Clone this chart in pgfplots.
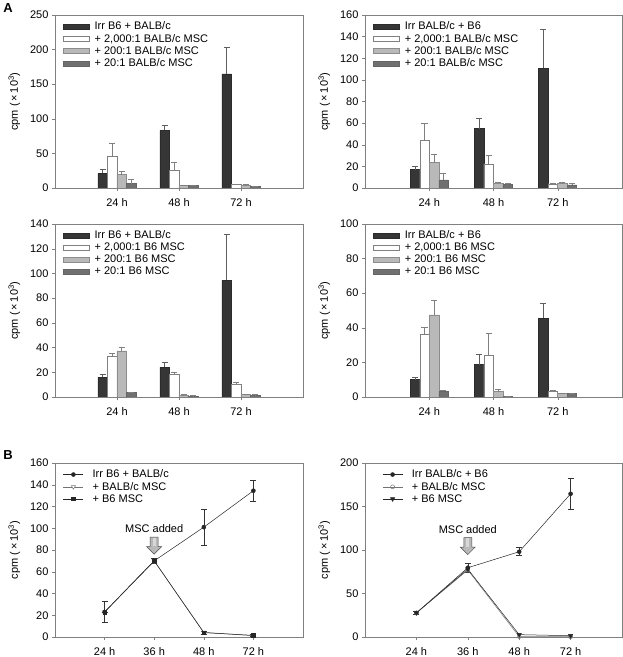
\documentclass[border=0pt]{standalone}
\usepackage{pgfplots}
\pgfplotsset{compat=1.18}
\usepackage{pgfplotstable}
\usepackage{fontspec}
\setmainfont{Liberation Sans}
\definecolor{axisgray}{HTML}{808080}
\definecolor{cA}{HTML}{363636}
\definecolor{cC}{HTML}{B9B9B9}
\definecolor{cD}{HTML}{707070}
\newcommand{\fs}{\fontsize{11}{12}\selectfont}
\pgfplotsset{
  panel/.style={scale only axis, anchor=south west,
    axis line style={draw=axisgray, line width=0.6pt},
    every tick/.style={draw=axisgray},
    tick align=outside, major tick length=3pt,
    xtick pos=left, ytick pos=left,
    font=\fs, tick label style={font=\fs},
    xticklabel style={yshift=-4pt},
    /pgf/number format/assume math mode=true,
    ylabel={cpm (\,×\,10\textsuperscript{3})},
    ylabel style={font=\fs, yshift=3pt},
    legend style={draw=none, fill=none, at={(0.02,0.985)}, anchor=north west,
      row sep=-1.2pt, font=\fs, cells={anchor=west}},
    legend cell align=left,
    ymin=0},
  barpanel/.style={panel, ybar=0pt, bar width=9.5pt, xmin=0, xmax=4,
    xtick={1,2,3}, xticklabels={24 h,48 h,72 h},
    legend image code/.code={\draw[##1] (0pt,-2.5pt) rectangle (26pt,2.5pt); \path (29pt,0pt);}},
  linepanel/.style={panel, xmin=0, xmax=5, xtick={1,2,3,4},
    xticklabels={24 h,36 h,48 h,72 h},
    legend image code/.code={\draw[mark repeat=2,mark phase=2,##1] plot coordinates {(0pt,0pt) (10pt,0pt) (20pt,0pt)}; \path (27pt,0pt);}},
  bA/.style={fill=cA, draw=cA!80!black, line width=0.5pt,
    error bars/.cd, y dir=plus, y explicit,
    error bar style={draw=cA!80, line width=0.6pt},
    error mark options={rotate=90, mark size=3pt, draw=cA!80, line width=0.6pt}},
  bB/.style={fill=white, draw=black!50, line width=0.5pt,
    error bars/.cd, y dir=plus, y explicit,
    error bar style={draw=black!50, line width=0.6pt},
    error mark options={rotate=90, mark size=3pt, draw=black!50, line width=0.6pt}},
  bC/.style={fill=cC, draw=black!45, line width=0.5pt,
    error bars/.cd, y dir=plus, y explicit,
    error bar style={draw=black!50, line width=0.6pt},
    error mark options={rotate=90, mark size=3pt, draw=black!50, line width=0.6pt}},
  bD/.style={fill=cD, draw=black!60, line width=0.5pt,
    error bars/.cd, y dir=plus, y explicit,
    error bar style={draw=black!50, line width=0.6pt},
    error mark options={rotate=90, mark size=3pt, draw=black!50, line width=0.6pt}},
  lerr/.style={error bars/.cd, y dir=both, y explicit,
    error bar style={draw=black!80, line width=0.5pt},
    error mark options={rotate=90, mark size=3pt, draw=black!80, line width=0.5pt}},
}
\newcommand{\mscarrow}{%
  \draw[draw=black!70, fill=gray!55, line width=0.5pt]
    (-4pt,8.5pt) -- (4pt,8.5pt) -- (4pt,-1pt) -- (7.5pt,-1pt) -- (0pt,-8.5pt)
    -- (-7.5pt,-1pt) -- (-4pt,-1pt) -- cycle;
  \fill[white, opacity=0.45] (-1.5pt,8pt) rectangle (1.5pt,-0.5pt);}
% Panel 1
\pgfplotstableread{
x y e
1 21.6 4.8
2 83.2 7.2
3 165 38
}\pAa
\pgfplotstableread{
x y e
1 46.6 18.4
2 26 11
3 5.0 0.8
}\pAb
\pgfplotstableread{
x y e
1 19.2 5.3
2 4.0 0.5
3 4.3 0.5
}\pAc
\pgfplotstableread{
x y e
1 6.2 5.8
2 3.8 0.5
3 2.2 0.3
}\pAd
% Panel 2
\pgfplotstableread{
x y e
1 16.9 3.1
2 54.8 9.8
3 110.8 36
}\pBa
\pgfplotstableread{
x y e
1 44.6 15.4
2 22.2 8.3
3 3.8 0.6
}\pBb
\pgfplotstableread{
x y e
1 23.4 8
2 4.3 0.8
3 4.0 1.2
}\pBc
\pgfplotstableread{
x y e
1 7.4 6.4
2 3.1 0.9
3 3.0 1.0
}\pBd
% Panel 3
\pgfplotstableread{
x y e
1 16 2.4
2 24 4.1
3 94.3 37.6
}\pCa
\pgfplotstableread{
x y e
1 33.2 2.5
2 18.4 1.6
3 10.5 1.1
}\pCb
\pgfplotstableread{
x y e
1 37.3 2.7
2 1.6 0.3
3 2.2 0.3
}\pCc
\pgfplotstableread{
x y e
1 3.5 0.5
2 0.8 0.2
3 1.6 0.3
}\pCd
% Panel 4
\pgfplotstableread{
x y e
1 10 1.2
2 18.7 6.2
3 45.6 8.4
}\pDa
\pgfplotstableread{
x y e
1 36.5 4
2 23.9 13.1
3 3.3 0.4
}\pDb
\pgfplotstableread{
x y e
1 47.5 8.5
2 3.1 1.1
3 1.9 0.2
}\pDc
\pgfplotstableread{
x y e
1 3.3 0.6
2 0.2 0.1
3 1.9 0.2
}\pDd
% Panel 5
\pgfplotstableread{
x y e
1 23 9.5
2 70 2
3 101 16.5
4 134.5 10
}\pEa
\pgfplotstableread{
x y e
1 23 0
2 70 0
3 4.3 0
4 1.2 0
}\pEb
\pgfplotstableread{
x y e
1 23 0
2 70 2
3 4 1.5
4 1.5 1
}\pEc
% Panel 6
\pgfplotstableread{
x y e
1 27.7 1.5
2 79.6 5
3 98 4.6
4 164.6 18
}\pFa
\pgfplotstableread{
x y e
1 27.7 0
2 77 0
3 0.5 0
4 0.3 0
}\pFb
\pgfplotstableread{
x y e
1 27.7 0
2 78 0
3 2.7 0
4 1.5 0
}\pFc
\begin{document}
\begin{tikzpicture}
% ---------- Panel 1 ----------
\begin{axis}[barpanel, at={(55pt,469pt)}, width=248pt, height=173pt,
  ymax=250, ytick={0,50,...,250}]
\addplot[bA] table[x=x,y=y,y error=e]{\pAa};
\addplot[bB] table[x=x,y=y,y error=e]{\pAb};
\addplot[bC] table[x=x,y=y,y error=e]{\pAc};
\addplot[bD] table[x=x,y=y,y error=e]{\pAd};
\legend{Irr B6 + BALB/c, + 2{,}000:1 BALB/c MSC, + 200:1 BALB/c MSC, + 20:1 BALB/c MSC}
\end{axis}
% ---------- Panel 2 ----------
\begin{axis}[barpanel, at={(365pt,469pt)}, width=257pt, height=173pt,
  ymax=160, ytick={0,20,...,160}]
\addplot[bA] table[x=x,y=y,y error=e]{\pBa};
\addplot[bB] table[x=x,y=y,y error=e]{\pBb};
\addplot[bC] table[x=x,y=y,y error=e]{\pBc};
\addplot[bD] table[x=x,y=y,y error=e]{\pBd};
\legend{Irr BALB/c + B6, + 2{,}000:1 BALB/c MSC, + 200:1 BALB/c MSC, + 20:1 BALB/c MSC}
\end{axis}
% ---------- Panel 3 ----------
\begin{axis}[barpanel, at={(55pt,260pt)}, width=248pt, height=173pt,
  ymax=140, ytick={0,20,...,140}]
\addplot[bA] table[x=x,y=y,y error=e]{\pCa};
\addplot[bB] table[x=x,y=y,y error=e]{\pCb};
\addplot[bC] table[x=x,y=y,y error=e]{\pCc};
\addplot[bD] table[x=x,y=y,y error=e]{\pCd};
\legend{Irr B6 + BALB/c, + 2{,}000:1 B6 MSC, + 200:1 B6 MSC, + 20:1 B6 MSC}
\end{axis}
% ---------- Panel 4 ----------
\begin{axis}[barpanel, at={(365pt,260pt)}, width=257pt, height=173pt,
  ymax=100, ytick={0,20,...,100}]
\addplot[bA] table[x=x,y=y,y error=e]{\pDa};
\addplot[bB] table[x=x,y=y,y error=e]{\pDb};
\addplot[bC] table[x=x,y=y,y error=e]{\pDc};
\addplot[bD] table[x=x,y=y,y error=e]{\pDd};
\legend{Irr BALB/c + B6, + 2{,}000:1 B6 MSC, + 200:1 B6 MSC, + 20:1 B6 MSC}
\end{axis}
% ---------- Panel 5 ----------
\begin{axis}[linepanel, at={(55pt,20pt)}, width=248pt, height=174pt,
  ymax=160, ytick={0,20,...,160}]
\addplot[black!85, line width=0.5pt, mark=*, mark size=2pt, mark options={fill=black!85}, lerr] table[x=x,y=y,y error=e]{\pEa};
\addplot[black!55, line width=0.5pt, mark=triangle*, mark size=2.4pt, mark options={rotate=180, fill=white, draw=black!55}] table[x=x,y=y]{\pEb};
\addplot[black!85, line width=0.5pt, mark=square*, mark size=1.8pt, mark options={fill=black!85}, lerr] table[x=x,y=y,y error=e]{\pEc};
\legend{Irr B6 + BALB/c, + BALB/c MSC, + B6 MSC}
\node[font=\fs] at (axis cs:2,99.3) {MSC added};
\begin{scope}[shift={(axis cs:2,84)}]\mscarrow\end{scope}
\end{axis}
% ---------- Panel 6 ----------
\begin{axis}[linepanel, at={(365pt,20pt)}, width=257pt, height=174pt,
  ymax=200, ytick={0,50,...,200},
  legend style={at={(0.055,0.985)}}]
\addplot[black!85, line width=0.5pt, mark=*, mark size=2pt, mark options={fill=black!85}, lerr] table[x=x,y=y,y error=e]{\pFa};
\addplot[black!55, line width=0.5pt, mark=o, mark size=2pt, mark options={fill=white, draw=black!55}] table[x=x,y=y]{\pFb};
\addplot[black!85, line width=0.5pt, mark=triangle*, mark size=2.4pt, mark options={rotate=180, fill=black!85}] table[x=x,y=y]{\pFc};
\legend{Irr BALB/c + B6, + BALB/c MSC, + B6 MSC}
\node[font=\fs] at (axis cs:2,123) {MSC added};
\begin{scope}[shift={(axis cs:2,104.5)}]\mscarrow\end{scope}
\end{axis}
\node[font=\bfseries\fontsize{13}{14}\selectfont] at (8pt,649pt) {A};
\node[font=\bfseries\fontsize{13}{14}\selectfont] at (8pt,202pt) {B};
\pgfresetboundingbox
\useasboundingbox (0,0) rectangle (623pt,657pt);
\end{tikzpicture}
\end{document}
